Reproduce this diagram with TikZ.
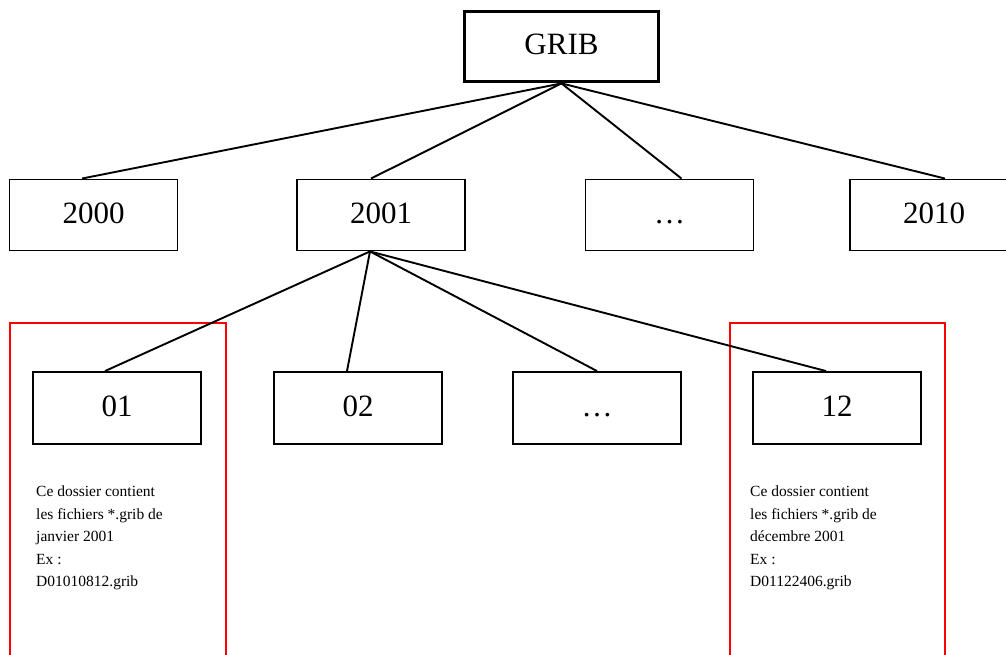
\documentclass[tikz,border=0pt]{standalone}
\usepackage{fontspec}
\setmainfont{Liberation Serif}
\begin{document}
\begin{tikzpicture}[x=1pt,y=-1pt,
  box/.style={draw,line width=1.9pt,minimum width=168pt,minimum height=71pt,inner sep=0pt,text height=23pt,text depth=7pt,font=\fontsize{31}{35}\selectfont},
  topbox/.style={box,line width=3.8pt,minimum width=194pt,minimum height=70pt},
  note/.style={align=left,anchor=north west,inner sep=0pt,font=\fontsize{15.5}{22.5}\selectfont},
  redframe/.style={draw=red,line width=2.8pt},
  link/.style={line width=1.9pt}]
\useasboundingbox (0,0) rectangle (1006,655);
\node[topbox] (grib) at (561.5,46.5) {GRIB};
\node[box] (y2000) at (93.5,215) {2000};
\node[box] (y2001) at (381,215) {2001};
\node[box] (ydots) at (669.5,215) {…};
\node[box] (y2010) at (934,215) {2010};
\node[box,minimum height=72pt] (m01) at (117,408) {01};
\node[box,minimum height=72pt] (m02) at (358,408) {02};
\node[box,minimum height=72pt] (mdots) at (597,408) {…};
\node[box,minimum height=72pt] (m12) at (837,408) {12};
\draw[redframe] (10,656) -- (10,323) -- (226,323) -- (226,656);
\draw[redframe] (730,656) -- (730,323) -- (945,323) -- (945,656);
\node[note] (t01) at (36,486) {Ce dossier contient\\les fichiers *.grib de\\janvier 2001\\Ex :\\D01010812.grib};
\node[note] (t12) at (750,486) {Ce dossier contient\\les fichiers *.grib de\\décembre 2001\\Ex :\\D01122406.grib};
\draw[link] (grib.south) -- ([xshift=-11.5pt]y2000.north);
\draw[link] (grib.south) -- ([xshift=-10pt]y2001.north);
\draw[link] (grib.south) -- ([xshift=12pt]ydots.north);
\draw[link] (grib.south) -- ([xshift=11pt]y2010.north);
\draw[link] ([xshift=-11pt]y2001.south) -- ([xshift=-12pt]m01.north);
\draw[link] ([xshift=-11pt]y2001.south) -- ([xshift=-11pt]m02.north);
\draw[link] ([xshift=-11pt]y2001.south) -- (mdots.north);
\draw[link] ([xshift=-11pt]y2001.south) -- ([xshift=-11pt]m12.north);
\end{tikzpicture}
\end{document}
